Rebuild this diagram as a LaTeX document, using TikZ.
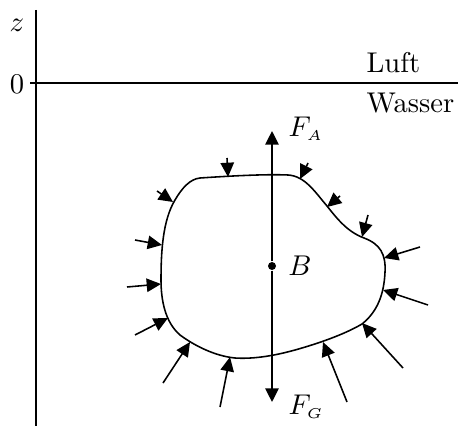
\documentclass[tikz,border=0pt]{standalone}
\usetikzlibrary{arrows.meta}
\begin{document}
\begin{tikzpicture}[x=0.35pt,y=-0.35pt,
  line/.style={line width=0.55pt},
  press/.style={line width=0.55pt,-{Triangle[length=5pt,width=4.7pt]}},
  force/.style={line width=0.55pt,-{Triangle[length=4.8pt,width=4.7pt]}},
  lab/.style={inner sep=0pt,font=\fontsize{10}{12}\selectfont}]
\useasboundingbox (0,0) rectangle (458,428);
% axes
\coordinate (ztop) at (36,10);
\coordinate (zbot) at (36,426);
\coordinate (hl) at (30,83);
\coordinate (hr) at (458,83);
\draw[line] (ztop) -- (zbot);
\draw[line] (hl) -- (hr);
\node[lab] (z) at (17,25) {$z$};
\node[lab] (zero) at (17,84) {$0$};
\node[lab,anchor=base west] (luft) at (366,73) {Luft};
\node[lab,anchor=base west] (wasser) at (366,113) {Wasser};
% body
\draw[line] (200,178) .. controls (230,176) and (265,174) .. (288,175)
 .. controls (305,176) and (315,192) .. (327,206)
 .. controls (338,220) and (348,232) .. (364,238)
 .. controls (380,244) and (386,254) .. (385,272)
 .. controls (384,295) and (377,312) .. (362,324)
 .. controls (345,334) and (320,343) .. (295,350)
 .. controls (270,357) and (250,359) .. (235,358)
 .. controls (215,356) and (195,346) .. (180,335)
 .. controls (165,322) and (161,300) .. (161,280)
 .. controls (161,250) and (163,220) .. (175,200)
 .. controls (182,188) and (190,179) .. (200,178) -- cycle;
% forces
\node[circle,fill,inner sep=0pt,minimum size=2.8pt] (B) at (272,266) {};
\node[lab] (Blab) at (300,266) {$B$};
\coordinate (FAtip) at (272,131);
\coordinate (FGtip) at (272,402);
\draw[force] (B) -- (FAtip);
\draw[force] (B) -- (FGtip);
\node[lab,anchor=west] (FA) at (288,129) {$F_{\scriptscriptstyle A}$};
\node[lab,anchor=west] (FG) at (288,407) {$F_{\scriptscriptstyle G}$};
% pressure arrows
\foreach \tx/\ty/\hx/\hy [count=\i] in {
 227/158/228/177, 308/163/300/179, 340/196/327/207, 368/215/362/237,
 420/247/384/258, 157/191/173/202, 135/240/162/245, 127/287/161/284,
 428/305/383/290, 403/368/362/323, 347/402/323/342, 220/407/230/357,
 163/383/190/342, 135/335/168/318} {
  \coordinate (t\i) at (\tx,\ty);
  \coordinate (h\i) at (\hx,\hy);
  \draw[press] (t\i) -- (h\i);
}
\end{tikzpicture}
\end{document}
